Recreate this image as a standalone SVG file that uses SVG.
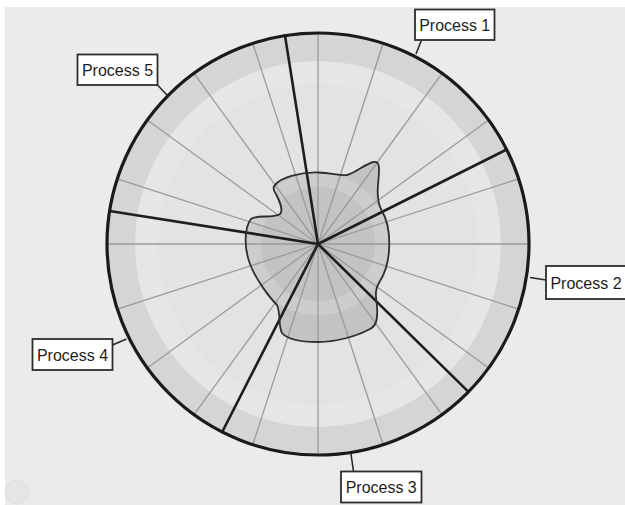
<svg xmlns="http://www.w3.org/2000/svg" width="625" height="505" viewBox="0 0 625 505">
  <style>
    .spoke { stroke: #9a9a9a; stroke-width: 1.3; fill: none; }
    .thick { stroke: #1e1e1e; stroke-width: 2.6; fill: none; stroke-linecap: round; }
    .lead { stroke: #2a2a2a; stroke-width: 1.6; fill: none; }
    .box { fill: #ffffff; stroke: #2e2e2e; stroke-width: 1.8; }
    .lbl { font-family: "Liberation Sans", Arial, sans-serif; font-size: 16px; fill: #1e1e1e; text-anchor: middle; }
  </style>
  <defs>
    <clipPath id="blobClip">
      <path d="M 275 185 C 280 178, 300 172, 318 172.5 C 332 173, 340 176, 347 175 C 356 173, 366 163, 374 162 C 381 161, 379 172, 378 185 C 377 196, 378 204, 382 211 C 392 228, 392 262, 380 281 C 374 290, 376 297, 377 306 C 378 320, 376 326, 370 329 C 355 337, 335 342, 318 342 C 300 342, 288 340, 282 333 C 278 326, 281 314, 277 305 C 270 298, 256 280, 250 264 C 244 248, 244 228, 251 219 C 258 214, 272 219, 280 214 C 284 210, 279 200, 276 194 C 273 190, 273 187, 275 185 Z"/>
    </clipPath>
  </defs>

  <rect x="0" y="0" width="625" height="505" fill="#ffffff"/>
  <rect x="5" y="7" width="620" height="498" fill="#ebebeb"/>
  <circle cx="17" cy="492" r="12" fill="#e5e5e5" stroke="#dedede" stroke-width="1"/>

  <g id="chart">
    <circle cx="318" cy="244" r="211" fill="#d5d5d5"/>
    <circle cx="318" cy="244" r="183" fill="#e6e6e6"/>
    <circle cx="318" cy="244" r="160" fill="#e3e3e3"/>
  </g>

  <g id="blob">
    <path d="M 275 185 C 280 178, 300 172, 318 172.5 C 332 173, 340 176, 347 175 C 356 173, 366 163, 374 162 C 381 161, 379 172, 378 185 C 377 196, 378 204, 382 211 C 392 228, 392 262, 380 281 C 374 290, 376 297, 377 306 C 378 320, 376 326, 370 329 C 355 337, 335 342, 318 342 C 300 342, 288 340, 282 333 C 278 326, 281 314, 277 305 C 270 298, 256 280, 250 264 C 244 248, 244 228, 251 219 C 258 214, 272 219, 280 214 C 284 210, 279 200, 276 194 C 273 190, 273 187, 275 185 Z" fill="#c3c3c3"/>
    <g clip-path="url(#blobClip)">
      <circle cx="318" cy="244" r="64" fill="none" stroke="#cdcdcd" stroke-width="14"/>
    </g>
  </g>

  <g id="connectors">
    <g id="spokes">
      <line class="spoke" x1="318" y1="244" x2="318" y2="33"/>
      <line class="spoke" x1="318" y1="244" x2="383.2" y2="43.3"/>
      <line class="spoke" x1="318" y1="244" x2="442.0" y2="73.3"/>
      <line class="spoke" x1="318" y1="244" x2="488.7" y2="120.0"/>
      <line class="spoke" x1="318" y1="244" x2="518.7" y2="178.8"/>
      <line class="spoke" x1="318" y1="244" x2="529" y2="244"/>
      <line class="spoke" x1="318" y1="244" x2="518.7" y2="309.2"/>
      <line class="spoke" x1="318" y1="244" x2="488.7" y2="368.0"/>
      <line class="spoke" x1="318" y1="244" x2="442.0" y2="414.7"/>
      <line class="spoke" x1="318" y1="244" x2="383.2" y2="444.7"/>
      <line class="spoke" x1="318" y1="244" x2="318" y2="455"/>
      <line class="spoke" x1="318" y1="244" x2="252.8" y2="444.7"/>
      <line class="spoke" x1="318" y1="244" x2="194.0" y2="414.7"/>
      <line class="spoke" x1="318" y1="244" x2="147.3" y2="368.0"/>
      <line class="spoke" x1="318" y1="244" x2="117.3" y2="309.2"/>
      <line class="spoke" x1="318" y1="244" x2="107" y2="244"/>
      <line class="spoke" x1="318" y1="244" x2="117.3" y2="178.8"/>
      <line class="spoke" x1="318" y1="244" x2="147.3" y2="120.0"/>
      <line class="spoke" x1="318" y1="244" x2="194.0" y2="73.3"/>
      <line class="spoke" x1="318" y1="244" x2="252.8" y2="43.3"/>
    </g>
    <g id="boundaries">
      <line class="thick" x1="318" y1="244" x2="285.0" y2="35.6"/>
      <line class="thick" x1="318" y1="244" x2="506.7" y2="149.5"/>
      <line class="thick" x1="318" y1="244" x2="468.5" y2="391.9"/>
      <line class="thick" x1="318" y1="244" x2="222.2" y2="432.0"/>
      <line class="thick" x1="318" y1="244" x2="109.6" y2="211.0"/>
    </g>
    <g id="leaders">
      <line class="lead" x1="421.5" y1="40" x2="416" y2="54"/>
      <line class="lead" x1="157.5" y1="85" x2="167" y2="95"/>
      <line class="lead" x1="530" y1="277.5" x2="546" y2="280"/>
      <line class="lead" x1="112.5" y1="345" x2="126.5" y2="339"/>
      <line class="lead" x1="351" y1="454" x2="353.5" y2="471.5"/>
    </g>
  </g>

  <g id="blob-outline">
    <path d="M 275 185 C 280 178, 300 172, 318 172.5 C 332 173, 340 176, 347 175 C 356 173, 366 163, 374 162 C 381 161, 379 172, 378 185 C 377 196, 378 204, 382 211 C 392 228, 392 262, 380 281 C 374 290, 376 297, 377 306 C 378 320, 376 326, 370 329 C 355 337, 335 342, 318 342 C 300 342, 288 340, 282 333 C 278 326, 281 314, 277 305 C 270 298, 256 280, 250 264 C 244 248, 244 228, 251 219 C 258 214, 272 219, 280 214 C 284 210, 279 200, 276 194 C 273 190, 273 187, 275 185 Z" fill="none" stroke="#2e2e2e" stroke-width="1.8"/>
  </g>

  <g id="rim">
    <circle cx="318" cy="244" r="211" fill="none" stroke="#1a1a1a" stroke-width="3.2"/>
  </g>

  <g id="process1">
    <rect class="box" x="415" y="9.5" width="79.5" height="30.5"/>
    <text class="lbl" x="454.7" y="30.5">Process 1</text>
  </g>
  <g id="process2">
    <rect class="box" x="546" y="266" width="80" height="33"/>
    <text class="lbl" x="586" y="288.5">Process 2</text>
  </g>
  <g id="process3">
    <rect class="box" x="341" y="471.5" width="80.5" height="31"/>
    <text class="lbl" x="381.2" y="493">Process 3</text>
  </g>
  <g id="process4">
    <rect class="box" x="32.5" y="339" width="80" height="31"/>
    <text class="lbl" x="72.5" y="360.5">Process 4</text>
  </g>
  <g id="process5">
    <rect class="box" x="77.5" y="54.5" width="80" height="30.5"/>
    <text class="lbl" x="117.5" y="75.5">Process 5</text>
  </g>
</svg>
